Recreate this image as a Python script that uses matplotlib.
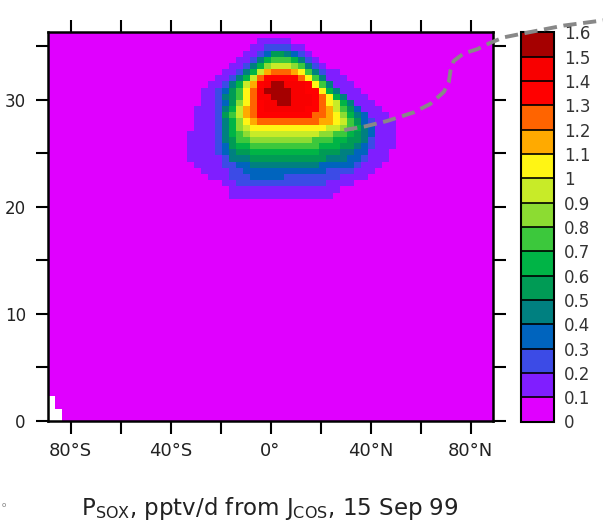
import numpy as np
import matplotlib
matplotlib.use("Agg")
import matplotlib.pyplot as plt
from matplotlib.colors import ListedColormap, BoundaryNorm

# ---------------- data ----------------
LEVELS = [0.0, 0.1, 0.2, 0.3, 0.4, 0.5, 0.6, 0.7, 0.8, 0.9, 1.0,
          1.1, 1.2, 1.3, 1.4, 1.5, 1.6]
LEVEL_LABELS = ["0", "0.1", "0.2", "0.3", "0.4", "0.5", "0.6", "0.7", "0.8",
                "0.9", "1", "1.1", "1.2", "1.3", "1.4", "1.5", "1.6"]
LEVEL_COLORS = ["#E000FF", "#801EFF", "#3C4BE6", "#0064BE", "#008080",
                "#009B55", "#00B446", "#3CC83C", "#8CDC32", "#C8EB28",
                "#FFF514", "#FFAA00", "#FF6400", "#FF0000", "#F80000",
                "#A50000"]

# model grid
LAT_RANGE = (-89.0, 89.0)
N_LAT = 64
ALT_TOP = 36.3
N_ALT = 63

# level index per grid cell in the region holding the maximum
# (rows from top to bottom, chars 0-9,a-f = colour band index)
BLOB_FIRST_COL = 20
BLOB_TOP_ROW = 61
BLOB_ROWS = [
    "000000000011111000000000000000",
    "000000000112222110000000000000",
    "000000001123554321000000000000",
    "000000011246777642100000000000",
    "000000112468999874210000000000",
    "0000011246" "9bcccba742" "1100000000",
    "0000112469" "cdddddca74" "1110000000",
    "000112469b" "deffeeeda7" "4111000000",
    "00112357ac" "effffeedda" "6411100000",
    "00112457ac" "eefffeeedc" "a641110000",
    "00112358ac" "deeffeeedc" "a964111000",
    "01112469bc" "deeeeeeddc" "b975311100",
    "01112579bc" "ddddddddcc" "ba86431110",
    "01112468ab" "cccccccccb" "ba97532111",
    "011124689a" "aaaaaaaaaa" "9987643111",
    "1111246789" "9999999998" "8776543111",
    "1111245778" "8888888877" "7665542111",
    "1111235667" "7777777776" "6655432111",
    "1111234556" "6666666665" "5544331110",
    "1111124445" "5555555555" "4443321110",
    "0111122334" "4444444443" "3333211100",
    "0011112233" "3333333333" "2222111000",
    "0001112223" "3333222222" "2211110000",
    "0000011222" "2222222222" "1111000000",
    "0000001111" "1111111111" "1100000000",
    "0000001111" "1111111111" "1000000000",
]

# cells with no data (below ground) at the south pole
MISSING_COLS = [0, 1]
MISSING_NROWS = [4, 2]

# dashed line (tropopause-like curve)
TROPO_LAT = [29.5, 38.0, 46.7, 57.3, 64.0, 69.3, 71.3, 72.0, 73.3, 77.3,
             82.7, 88.0, 93.3, 104.0, 117.3, 133.5]
TROPO_ALT = [27.15, 27.5, 28.0, 28.8, 29.6, 30.7, 31.6, 32.7, 33.6, 34.3,
             34.7, 35.3, 35.8, 36.3, 36.9, 37.4]

XTICKS = [-80, -60, -40, -20, 0, 20, 40, 60, 80]
XTICK_LABELS = ["80°S", "", "40°S", "", "0°", "", "40°N", "", "80°N"]
YTICKS = [0, 5, 10, 15, 20, 25, 30, 35]
YTICK_LABELS = ["0", "", "10", "", "20", "", "30", ""]

TITLE = r"P$_{\rm SOX}$, pptv/d from J$_{\rm COS}$, 15 Sep 99"

# ---------------- build field ----------------
lat_edges = np.linspace(LAT_RANGE[0], LAT_RANGE[1], N_LAT + 1)
alt_edges = np.linspace(0.0, ALT_TOP, N_ALT + 1)

idx = np.zeros((N_ALT, N_LAT), dtype=int)
for r, row in enumerate(BLOB_ROWS):
    i = BLOB_TOP_ROW - r
    for c, ch in enumerate(row):
        idx[i, BLOB_FIRST_COL + c] = int(ch, 16)

field = np.array(LEVELS)[idx] + 0.05
for col, nrow in zip(MISSING_COLS, MISSING_NROWS):
    field[:nrow, col] = np.nan
field = np.ma.masked_invalid(field)

# ---------------- plot ----------------
plt.rcParams["font.family"] = ["DejaVu Sans"]
txt = "#222222"

fig = plt.figure(figsize=(6.03, 5.27), dpi=100)
ax = fig.add_axes([48 / 603, 1 - 421 / 527, 445 / 603, 389 / 527])
ax.set_facecolor("white")

cmap = ListedColormap(LEVEL_COLORS)
norm = BoundaryNorm(LEVELS, cmap.N)
mesh = ax.pcolormesh(lat_edges, alt_edges, field, cmap=cmap, norm=norm,
                     shading="flat", antialiased=False, edgecolors="none",
                     linewidth=0)

ax.set_xlim(LAT_RANGE)
ax.set_ylim(0, ALT_TOP)

ax.set_xticks(XTICKS)
ax.set_xticklabels(XTICK_LABELS)
ax.set_yticks(YTICKS)
ax.set_yticklabels(YTICK_LABELS)
ax.tick_params(axis="both", direction="out", length=9, width=1.5,
               top=True, right=True, colors="black", labelcolor=txt)
ax.tick_params(axis="x", labelsize=13, pad=6)
ax.tick_params(axis="y", labelsize=12, pad=7)
for s in ax.spines.values():
    s.set_linewidth(1.8)

ax.plot(TROPO_LAT, TROPO_ALT, color="#888888", lw=2.8, dashes=(3.4, 1.7),
        solid_capstyle="butt", dash_capstyle="butt", clip_on=False, zorder=10)
ax.set_zorder(5)

cax = fig.add_axes([521 / 603, 1 - 421.5 / 527, 33 / 603, 389.2 / 527])
cb = fig.colorbar(mesh, cax=cax, ticks=LEVELS, drawedges=True)
cb.set_ticklabels(LEVEL_LABELS)
cb.dividers.set_color("black")
cb.dividers.set_linewidth(1.2)
cb.outline.set_linewidth(1.5)
cax.tick_params(length=0, pad=7, labelsize=12, labelcolor="#333333")

fig.text(270 / 603, 1 - 509 / 527, TITLE, ha="center", va="center",
         fontsize=16.5, color=txt)
fig.text(4 / 603, 1 - 505 / 527, "o", ha="center", va="center", fontsize=5,
         color="#777777")

fig.savefig("out.png", dpi=100)
